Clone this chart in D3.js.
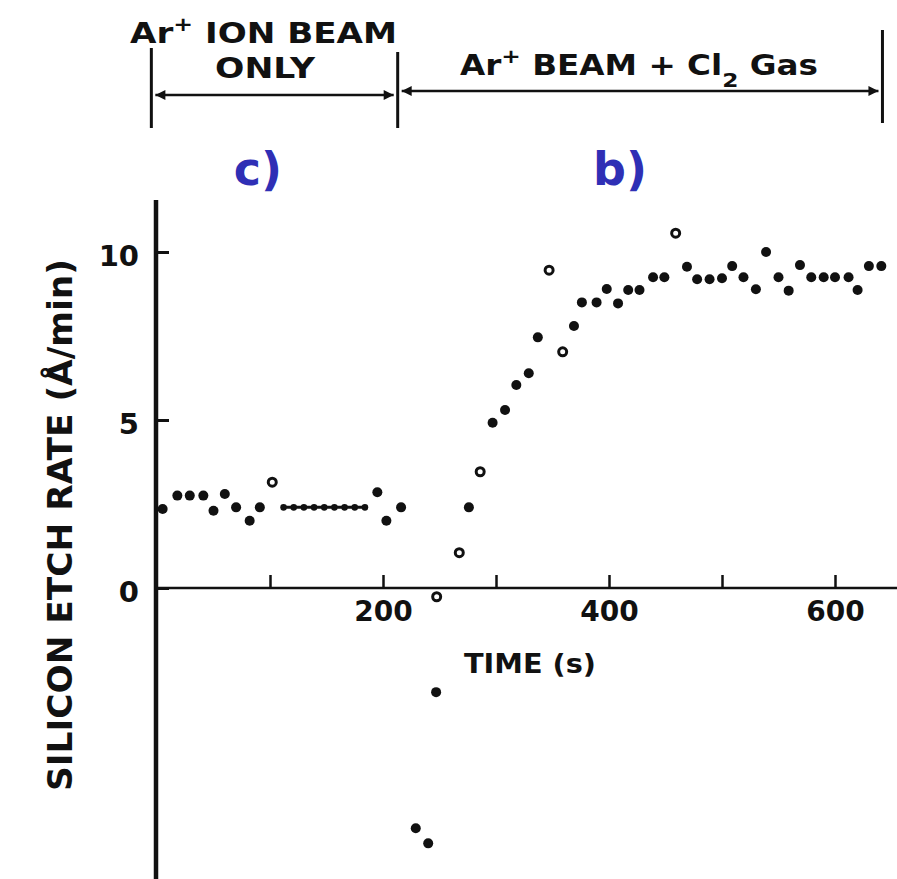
<!DOCTYPE html>
<html>
<head>
<meta charset="utf-8">
<script src="https://cdn.jsdelivr.net/npm/d3@7"></script>
<style>
  body { margin: 0; background: #fff; }
  svg text { font-family: "DejaVu Sans", sans-serif; font-weight: bold; fill: #111; }
</style>
</head>
<body>
<div id="chart"></div>
<script>
// filled dots: time (s), etch rate (A/min)
const dotTime = [5, 18, 29, 41, 50, 60, 70, 82, 91, 195, 203, 216, 229, 240, 247, 276,
  297, 308, 318, 329, 337, 369, 376, 389, 398, 408, 417, 427, 439, 449,
  469, 478, 489, 500, 509, 519, 530, 539, 550, 559, 569, 579, 590, 600, 612, 620, 630, 641];
const dotRate = [2.35, 2.75, 2.75, 2.75, 2.3, 2.8, 2.4, 2.0, 2.4, 2.85, 2.0, 2.4, -7.15, -7.6, -3.1, 2.4,
  4.92, 5.3, 6.04, 6.39, 7.46, 7.8, 8.5, 8.5, 8.9, 8.47, 8.87, 8.87, 9.25, 9.25,
  9.56, 9.19, 9.19, 9.22, 9.58, 9.25, 8.89, 10.0, 9.25, 8.85, 9.61, 9.25, 9.25, 9.25, 9.25, 8.87, 9.58, 9.58];

// small closely spaced dots in the flat part
const smallTime = [112, 121, 130, 139, 148, 157, 166, 175, 184];
const smallRate = [2.4, 2.4, 2.4, 2.4, 2.4, 2.4, 2.4, 2.4, 2.4];

// open circles
const openTime = [102, 247.5, 267.5, 286, 347, 359, 459];
const openRate = [3.15, -0.26, 1.05, 3.46, 9.46, 7.03, 10.56];

const xTicks = [100, 200, 300, 400, 500, 600];
const xLabels = [200, 400, 600];
const yTicks = [0, 5, 10];

// beam phases on the time axis
const phaseStart = [-5, 213];
const phaseEnd = [213, 642];
const phaseTag = ["c)", "b)"];

const width = 897, height = 879;

const svg = d3.select("#chart").append("svg")
  .attr("width", width)
  .attr("height", height);

const x = d3.scaleLinear().domain([0, 600]).range([157, 835]);
const y = d3.scaleLinear().domain([0, 10]).range([588, 252]);

// axis lines
svg.append("line")
  .attr("x1", x(0) - 1).attr("x2", x(0) - 1)
  .attr("y1", y(11.55)).attr("y2", y(-8.7))
  .attr("stroke", "#111").attr("stroke-width", 4.5);

svg.append("line")
  .attr("x1", x(0)).attr("x2", x(660))
  .attr("y1", y(0)).attr("y2", y(0))
  .attr("stroke", "#111").attr("stroke-width", 2.5);

// x axis
const xAxis = d3.axisBottom(x)
  .tickValues(xTicks)
  .tickSize(-13)
  .tickPadding(13)
  .tickFormat(d => xLabels.includes(d) ? d : "");

const gx = svg.append("g")
  .attr("transform", `translate(0,${y(0)})`)
  .call(xAxis);
gx.select(".domain").remove();
gx.selectAll(".tick line").attr("stroke", "#111").attr("stroke-width", 2.5);
gx.selectAll(".tick text")
  .attr("font-size", 28)
  .attr("font-family", null)
  .attr("fill", null);

// y axis
const yAxis = d3.axisLeft(y)
  .tickValues(yTicks)
  .tickSize(-12)
  .tickPadding(18);

const gy = svg.append("g")
  .attr("transform", `translate(${x(0)},0)`)
  .call(yAxis);
gy.select(".domain").remove();
gy.selectAll(".tick line").attr("stroke", "#111").attr("stroke-width", 3);
gy.selectAll(".tick text")
  .attr("font-size", 29)
  .attr("font-family", null)
  .attr("fill", null)
  .attr("dy", "0.45em");

// axis titles
svg.append("text")
  .attr("x", 530).attr("y", 673)
  .attr("text-anchor", "middle")
  .attr("font-size", 27)
  .attr("textLength", 132)
  .attr("lengthAdjust", "spacingAndGlyphs")
  .text("TIME (s)");

svg.append("text")
  .attr("transform", "translate(72,525) rotate(-90)")
  .attr("text-anchor", "middle")
  .attr("font-size", 33)
  .attr("textLength", 532)
  .attr("lengthAdjust", "spacingAndGlyphs")
  .text("SILICON ETCH RATE (Å/min)");

// data points
svg.selectAll(".dot")
  .data(dotTime.map((t, i) => [t, dotRate[i]]))
  .enter().append("circle")
  .attr("class", "dot")
  .attr("cx", d => x(d[0]))
  .attr("cy", d => y(d[1]))
  .attr("r", 5)
  .attr("fill", "#111");

svg.selectAll(".small-dot")
  .data(smallTime.map((t, i) => [t, smallRate[i]]))
  .enter().append("circle")
  .attr("class", "small-dot")
  .attr("cx", d => x(d[0]))
  .attr("cy", d => y(d[1]))
  .attr("r", 3.3)
  .attr("fill", "#111");

svg.append("line")
  .attr("x1", x(smallTime[0])).attr("x2", x(smallTime[smallTime.length - 1]))
  .attr("y1", y(smallRate[0])).attr("y2", y(smallRate[0]))
  .attr("stroke", "#111").attr("stroke-width", 3);

svg.selectAll(".open-dot")
  .data(openTime.map((t, i) => [t, openRate[i]]))
  .enter().append("circle")
  .attr("class", "open-dot")
  .attr("cx", d => x(d[0]))
  .attr("cy", d => y(d[1]))
  .attr("r", 4)
  .attr("fill", "#fff")
  .attr("stroke", "#111")
  .attr("stroke-width", 3);

// header: phase bars and arrows
const defs = svg.append("defs");
defs.append("marker")
  .attr("id", "arrow")
  .attr("viewBox", "0 0 10 10")
  .attr("refX", 10).attr("refY", 5)
  .attr("markerWidth", 6).attr("markerHeight", 4)
  .attr("markerUnits", "strokeWidth")
  .attr("orient", "auto-start-reverse")
  .append("path")
  .attr("d", "M0,0 L10,5 L0,10 Z")
  .attr("fill", "#111");

const arrowY = [95, 91];

phaseStart.forEach((s, i) => {
  const x0 = x(s), x1 = x(phaseEnd[i]);
  svg.append("line")
    .attr("x1", x0 + 4).attr("x2", x1 - 4)
    .attr("y1", arrowY[i]).attr("y2", arrowY[i])
    .attr("stroke", "#111").attr("stroke-width", 2.5)
    .attr("marker-start", "url(#arrow)")
    .attr("marker-end", "url(#arrow)");
});

[x(phaseStart[0]), x(phaseEnd[0]), x(phaseEnd[1])].forEach((bx, i) => {
  svg.append("line")
    .attr("x1", bx).attr("x2", bx)
    .attr("y1", [48, 52, 30][i]).attr("y2", [128, 128, 123][i])
    .attr("stroke", "#111").attr("stroke-width", 3);
});

const t1 = svg.append("text")
  .attr("x", 130).attr("y", 43)
  .attr("font-size", 29)
  .attr("textLength", 267)
  .attr("lengthAdjust", "spacingAndGlyphs");
t1.append("tspan").text("Ar");
t1.append("tspan").attr("baseline-shift", "super").attr("font-size", 20).text("+");
t1.append("tspan").text(" ION BEAM");

svg.append("text")
  .attr("x", 265).attr("y", 78)
  .attr("text-anchor", "middle")
  .attr("font-size", 29)
  .attr("textLength", 100)
  .attr("lengthAdjust", "spacingAndGlyphs")
  .text("ONLY");

const t2 = svg.append("text")
  .attr("x", 460).attr("y", 75)
  .attr("font-size", 28)
  .attr("textLength", 358)
  .attr("lengthAdjust", "spacingAndGlyphs");
t2.append("tspan").text("Ar");
t2.append("tspan").attr("baseline-shift", "super").attr("font-size", 20).text("+");
t2.append("tspan").text(" BEAM + Cl");
t2.append("tspan").attr("baseline-shift", "sub").attr("font-size", 20).text("2");
t2.append("tspan").text(" Gas");

// blue panel tags
svg.selectAll(".tag")
  .data(phaseTag)
  .enter().append("text")
  .attr("class", "tag")
  .attr("x", (d, i) => [258, 620][i])
  .attr("y", 185)
  .attr("text-anchor", "middle")
  .attr("font-family", "'Open Sans', sans-serif")
  .attr("font-size", 46)
  .style("fill", "#2f2fb5")
  .text(d => d);
</script>
</body>
</html>
